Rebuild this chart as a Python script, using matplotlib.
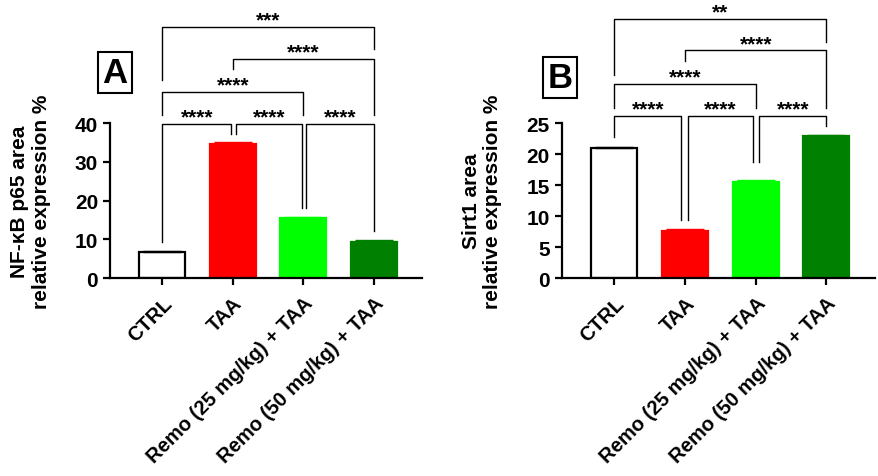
import matplotlib
matplotlib.use("Agg")
import matplotlib.pyplot as plt

plt.rcParams['font.family'] = ['Liberation Sans', 'DejaVu Sans']
plt.rcParams['font.weight'] = 'bold'
plt.rcParams['axes.labelweight'] = 'bold'

groups = ["CTRL", "TAA", "Remo (25 mg/kg) + TAA", "Remo (50 mg/kg) + TAA"]
bar_colors = ["white", "#ff0000", "#00ff00", "#008000"]
edge_colors = ["black", "#ff0000", "#00ff00", "#008000"]

nfkb_mean = [6.6, 34.6, 15.5, 9.4]
nfkb_sem = [0.4, 0.4, 0.3, 0.3]
sirt1_mean = [20.9, 7.6, 15.5, 22.9]
sirt1_sem = [0.3, 0.3, 0.3, 0.2]

# significance: (group i, group j, stars)
sig_a = [(0, 1, "****"), (1, 2, "****"), (2, 3, "****"),
         (0, 2, "****"), (1, 3, "****"), (0, 3, "***")]
sig_b = [(0, 1, "****"), (1, 2, "****"), (2, 3, "****"),
         (0, 2, "****"), (1, 3, "****"), (0, 3, "**")]

# bracket layout (data units): level, left arm end, right arm end, x shifts
layout_a = [(39.7, 9.3, 37.2, 0.0, -0.02), (39.7, 37.2, 18.0, 0.04, -0.02),
            (39.7, 18.0, 12.1, 0.04, 0.0), (48.0, 42.0, 42.0, 0, 0),
            (56.5, 54.0, 42.0, 0, 0), (64.8, 51.0, 59.0, 0, 0)]
layout_b = [(26.1, 22.7, 9.35, 0.0, -0.05), (26.1, 9.35, 18.7, 0.05, -0.04),
            (26.1, 18.7, 24.6, 0.05, 0.0), (31.3, 27.5, 27.5, 0, 0),
            (36.7, 35.0, 27.5, 0, 0), (41.8, 32.7, 38.1, 0, 0)]


def draw_panel(ax, means, sems, ylim, step, ylabel, letter, sig, layout, letter_xy):
    x = list(range(len(groups)))
    ax.bar(x, means, width=0.65, color=bar_colors, edgecolor=edge_colors,
           linewidth=1.6, zorder=2)
    for xi, m, s, c in zip(x, means, sems, edge_colors):
        ax.errorbar(xi, m, yerr=[[0], [s]], fmt="none", ecolor=c,
                    elinewidth=1, capsize=14, capthick=1, zorder=3)
    ax.set_xlim(-0.74, 3.68)
    ax.set_ylim(0, ylim)
    ax.set_yticks(range(0, ylim + 1, step))
    ax.set_xticks(x)
    ax.set_xticklabels(groups, rotation=45, ha="right", va="top",
                       rotation_mode="anchor", fontsize=14.5)
    ax.tick_params(axis="y", labelsize=15, width=1.6, length=5)
    ax.tick_params(axis="x", width=1.6, length=5, pad=6)
    for side in ["top", "right"]:
        ax.spines[side].set_visible(False)
    for side in ["left", "bottom"]:
        ax.spines[side].set_linewidth(1.6)
    ax.set_ylabel(ylabel, fontsize=15, fontweight="bold", linespacing=1.15)
    ax.yaxis.set_label_coords(-0.19, 0.5)

    for (i, j, stars), (lev, e1, e2, d1, d2) in zip(sig, layout):
        x1, x2 = i + d1, j + d2
        ax.plot([x1, x1, x2, x2], [e1, lev, lev, e2], color="black",
                linewidth=1.0, clip_on=False, zorder=4)
        ax.text((x1 + x2) / 2, lev + ylim * 0.010, stars, ha="center",
                va="baseline", fontsize=15, clip_on=False)

    ax.text(letter_xy[0], letter_xy[1], letter, transform=ax.transAxes,
            fontsize=25, ha="center", va="center",
            bbox=dict(boxstyle="square,pad=0.12", facecolor="white",
                      edgecolor="black", linewidth=1.5))


fig = plt.figure(figsize=(8.79, 4.77), dpi=100)
ax_a = fig.add_axes([0.125, 0.415, 0.355, 0.325])
ax_b = fig.add_axes([0.639, 0.415, 0.356, 0.325])

draw_panel(ax_a, nfkb_mean, nfkb_sem, 40, 10,
           "NF-\u03baB p65 area\nrelative expression %", "A",
           sig_a, layout_a, (0.016, 1.326))
draw_panel(ax_b, sirt1_mean, sirt1_sem, 25, 5,
           "Sirt1 area\nrelative expression %", "B",
           sig_b, layout_b, (-0.006, 1.294))

fig.savefig("out.png", dpi=100)
